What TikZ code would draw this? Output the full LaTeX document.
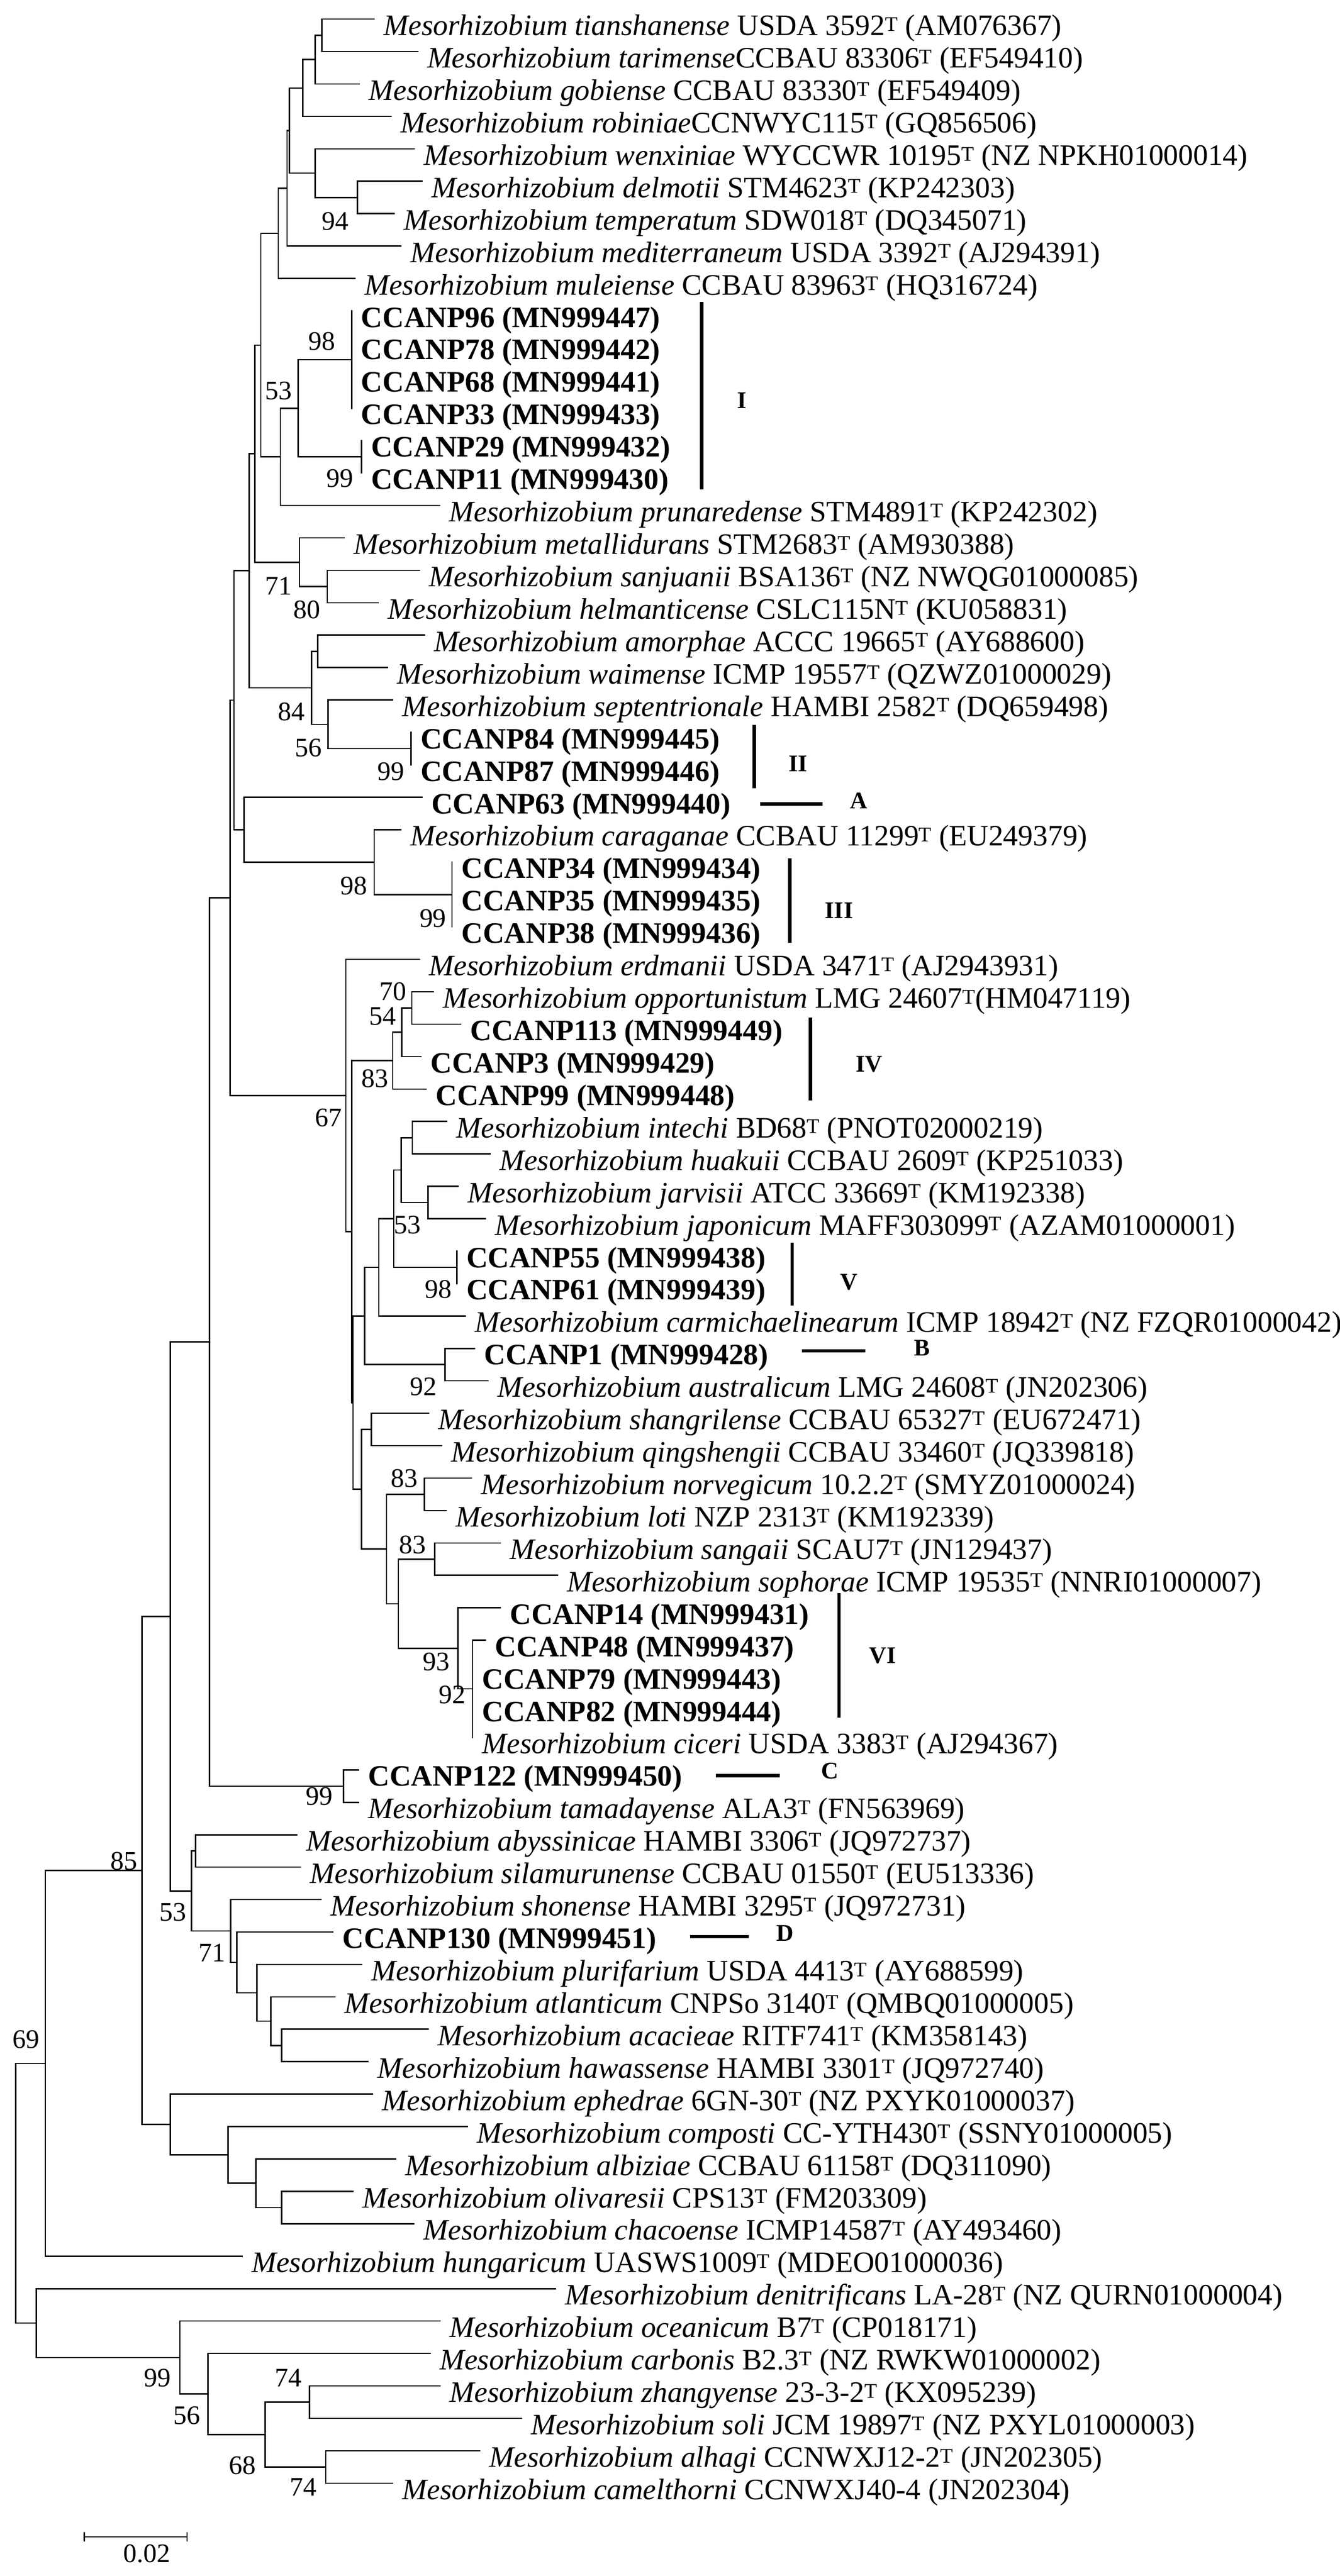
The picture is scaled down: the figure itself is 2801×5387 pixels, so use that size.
\documentclass[tikz,border=0pt]{standalone}
\usepackage{fontspec}
\setmainfont{Liberation Serif}
\usetikzlibrary{calc}
\newcommand{\Ms}[1]{\textit{Mesorhizobium #1}}
\newcommand{\sT}{\textsuperscript{T}}
\newcommand{\tip}[3]{\coordinate (t#1) at (#2,{40+67.8*(#1-1)});
  \node[taxon] (l#1) at ([xshift=20pt,yshift=-34pt]t#1) {#3};}
\newcommand{\inode}[4]{\path let \p1=(#3), \p2=(#4) in coordinate (#1) at (#2pt,{0.5*\y1+0.5*\y2});
  \draw[br] (#3) -| (#1) |- (#4);}
\newcommand{\barnode}[4]{\coordinate (#1) at (#2,{40+67.8*((#3+#4)/2-1)});
  \draw[br] (t#3) -- (t#4);}
\newcommand{\bs}[3]{\node[boot] (b#1) at (#2) {#3};}
\begin{document}
\begin{tikzpicture}[x=1pt,y=-1pt,
  br/.style={line width=2.8pt,line cap=rect},
  taxon/.style={anchor=base west,inner sep=0pt,font=\fontsize{62}{70}\selectfont},
  boot/.style={inner sep=0pt,font=\fontsize{56}{60}\selectfont},
  cl/.style={line width=7pt},
  clab/.style={inner sep=0pt,font=\fontsize{50}{56}\selectfont\bfseries}]
\useasboundingbox[fill=white] (0,0) rectangle (2801,5387);
\tip{1}{782}{\Ms{tianshanense} USDA 3592\sT{} (AM076367)}
\tip{2}{873}{\Ms{tarimense}CCBAU 83306\sT{} (EF549410)}
\tip{3}{751}{\Ms{gobiense} CCBAU 83330\sT{} (EF549409)}
\tip{4}{817}{\Ms{robiniae}CCNWYC115\sT{} (GQ856506)}
\tip{5}{866}{\Ms{wenxiniae} WYCCWR 10195\sT{} (NZ NPKH01000014)}
\tip{6}{882}{\Ms{delmotii} STM4623\sT{} (KP242303)}
\tip{7}{824}{\Ms{temperatum} SDW018\sT{} (DQ345071)}
\tip{8}{838}{\Ms{mediterraneum} USDA 3392\sT{} (AJ294391)}
\tip{9}{742}{\Ms{muleiense} CCBAU 83963\sT{} (HQ316724)}
\tip{10}{735}{\textbf{CCANP96 (MN999447)}}
\tip{11}{735}{\textbf{CCANP78 (MN999442)}}
\tip{12}{735}{\textbf{CCANP68 (MN999441)}}
\tip{13}{735}{\textbf{CCANP33 (MN999433)}}
\tip{14}{756}{\textbf{CCANP29 (MN999432)}}
\tip{15}{756}{\textbf{CCANP11 (MN999430)}}
\tip{16}{919}{\Ms{prunaredense} STM4891\sT{} (KP242302)}
\tip{17}{719}{\Ms{metallidurans} STM2683\sT{} (AM930388)}
\tip{18}{877}{\Ms{sanjuanii} BSA136\sT{} (NZ NWQG01000085)}
\tip{19}{791}{\Ms{helmanticense} CSLC115N\sT{} (KU058831)}
\tip{20}{887}{\Ms{amorphae} ACCC 19665\sT{} (AY688600)}
\tip{21}{810}{\Ms{waimense} ICMP 19557\sT{} (QZWZ01000029)}
\tip{22}{821}{\Ms{septentrionale} HAMBI 2582\sT{} (DQ659498)}
\tip{23}{859}{\textbf{CCANP84 (MN999445)}}
\tip{24}{859}{\textbf{CCANP87 (MN999446)}}
\tip{25}{882}{\textbf{CCANP63 (MN999440)}}
\tip{26}{838}{\Ms{caraganae} CCBAU 11299\sT{} (EU249379)}
\tip{27}{945}{\textbf{CCANP34 (MN999434)}}
\tip{28}{945}{\textbf{CCANP35 (MN999435)}}
\tip{29}{945}{\textbf{CCANP38 (MN999436)}}
\tip{30}{877}{\Ms{erdmanii} USDA 3471\sT{} (AJ2943931)}
\tip{31}{906}{\Ms{opportunistum} LMG 24607\sT(HM047119)}
\tip{32}{963}{\textbf{CCANP113 (MN999449)}}
\tip{33}{880}{\textbf{CCANP3 (MN999429)}}
\tip{34}{891}{\textbf{CCANP99 (MN999448)}}
\tip{35}{934}{\Ms{intechi} BD68\sT{} (PNOT02000219)}
\tip{36}{1024}{\Ms{huakuii} CCBAU 2609\sT{} (KP251033)}
\tip{37}{958}{\Ms{jarvisii} ATCC 33669\sT{} (KM192338)}
\tip{38}{1015}{\Ms{japonicum} MAFF303099\sT{} (AZAM01000001)}
\tip{39}{955}{\textbf{CCANP55 (MN999438)}}
\tip{40}{955}{\textbf{CCANP61 (MN999439)}}
\tip{41}{973}{\Ms{carmichaelinearum} ICMP 18942\sT{} (NZ FZQR01000042)}
\tip{42}{992}{\textbf{CCANP1 (MN999428)}}
\tip{43}{1020}{\Ms{australicum} LMG 24608\sT{} (JN202306)}
\tip{44}{896}{\Ms{shangrilense} CCBAU 65327\sT{} (EU672471)}
\tip{45}{923}{\Ms{qingshengii} CCBAU 33460\sT{} (JQ339818)}
\tip{46}{986}{\Ms{norvegicum} 10.2.2\sT{} (SMYZ01000024)}
\tip{47}{933}{\Ms{loti} NZP 2313\sT{} (KM192339)}
\tip{48}{1046}{\Ms{sangaii} SCAU7\sT{} (JN129437)}
\tip{49}{1165}{\Ms{sophorae} ICMP 19535\sT{} (NNRI01000007)}
\tip{50}{1046}{\textbf{CCANP14 (MN999431)}}
\tip{51}{1015}{\textbf{CCANP48 (MN999437)}}
\tip{52}{988}{\textbf{CCANP79 (MN999443)}}
\tip{53}{988}{\textbf{CCANP82 (MN999444)}}
\tip{54}{988}{\Ms{ciceri} USDA 3383\sT{} (AJ294367)}
\tip{55}{750}{\textbf{CCANP122 (MN999450)}}
\tip{56}{750}{\Ms{tamadayense} ALA3\sT{} (FN563969)}
\tip{57}{620}{\Ms{abyssinicae} HAMBI 3306\sT{} (JQ972737)}
\tip{58}{628}{\Ms{silamurunense} CCBAU 01550\sT{} (EU513336)}
\tip{59}{671}{\Ms{shonense} HAMBI 3295\sT{} (JQ972731)}
\tip{60}{696}{\textbf{CCANP130 (MN999451)}}
\tip{61}{756}{\Ms{plurifarium} USDA 4413\sT{} (AY688599)}
\tip{62}{700}{\Ms{atlanticum} CNPSo 3140\sT{} (QMBQ01000005)}
\tip{63}{895}{\Ms{acacieae} RITF741\sT{} (KM358143)}
\tip{64}{769}{\Ms{hawassense} HAMBI 3301\sT{} (JQ972740)}
\tip{65}{779}{\Ms{ephedrae} 6GN-30\sT{} (NZ PXYK01000037)}
\tip{66}{977}{\Ms{composti} CC-YTH430\sT{} (SSNY01000005)}
\tip{67}{827}{\Ms{albiziae} CCBAU 61158\sT{} (DQ311090)}
\tip{68}{738}{\Ms{olivaresii} CPS13\sT{} (FM203309)}
\tip{69}{865}{\Ms{chacoense} ICMP14587\sT{} (AY493460)}
\tip{70}{506}{\Ms{hungaricum} UASWS1009\sT{} (MDEO01000036)}
\tip{71}{1161}{\Ms{denitrificans} LA-28\sT{} (NZ QURN01000004)}
\tip{72}{920}{\Ms{oceanicum} B7\sT{} (CP018171)}
\tip{73}{899}{\Ms{carbonis} B2.3\sT{} (NZ RWKW01000002)}
\tip{74}{920}{\Ms{zhangyense} 23-3-2\sT{} (KX095239)}
\tip{75}{1090}{\Ms{soli} JCM 19897\sT{} (NZ PXYL01000003)}
\tip{76}{1003}{\Ms{alhagi} CCNWXJ12-2\sT{} (JN202305)}
\tip{77}{821}{\Ms{camelthorni} CCNWXJ40-4 (JN202304)}
% tree
\inode{n12}{673}{t1}{t2}
\inode{n123}{659}{n12}{t3}
\inode{n1234}{633}{n123}{t4}
\inode{n67}{747}{t6}{t7}
\inode{n567}{659}{t5}{n67}
\inode{nA}{605}{n1234}{n567}
\inode{nB}{600}{nA}{t8}
\inode{nC}{582}{nB}{t9}
\barnode{nG}{735}{10}{13}
\barnode{nH}{756}{14}{15}
\inode{nF}{623}{nG}{nH}
\inode{nE}{586}{nF}{t16}
\inode{nD}{545}{nC}{nE}
\inode{nJ}{684}{t18}{t19}
\inode{nI}{626}{t17}{nJ}
\inode{nX}{533}{nD}{nI}
\inode{nM}{664}{t20}{t21}
\barnode{nO}{859}{23}{24}
\inode{nN}{686}{t22}{nO}
\inode{nL}{651}{nM}{nN}
\inode{nK}{521}{nX}{nL}
\barnode{nU}{945}{27}{29}
\inode{nT}{782}{t26}{nU}
\inode{nQ}{510}{t25}{nT}
\inode{nP}{489}{nK}{nQ}
\inode{n70}{861}{t31}{t32}
\inode{n54}{840}{n70}{t33}
\inode{n83}{821}{n54}{t34}
\inode{nInt}{862}{t35}{t36}
\inode{nJar}{895}{t37}{t38}
\inode{nV8}{839}{nInt}{nJar}
\barnode{nV55}{955}{39}{40}
\inode{nV7}{823}{nV8}{nV55}
\inode{nV6}{792}{nV7}{t41}
\inode{nB1}{930}{t42}{t43}
\inode{nV5}{762}{nV6}{nB1}
\inode{nSQ}{776}{t44}{t45}
\inode{n83b}{887}{t46}{t47}
\inode{nSan}{909}{t48}{t49}
\coordinate (nVIb) at (988,{40+67.8*(52.5-1)});
\draw[br] (t51) -- (t51 -| t52) -- (t54);
\inode{nVI}{957}{t50}{nVIb}
\inode{n83c}{833}{nSan}{nVI}
\inode{nLo2}{808}{n83b}{n83c}
\inode{nLo}{756}{nSQ}{nLo2}
\inode{nS3}{738}{nV5}{nLo}
\inode{nS2}{735}{n83}{nS3}
\inode{nS}{723}{t30}{nS2}
\inode{nR}{481}{nP}{nS}
\inode{nW}{718}{t55}{t56}
\inode{nY}{438}{nR}{nW}
\inode{nAb}{409}{t57}{t58}
\inode{nAc}{589}{t63}{t64}
\inode{nAt}{566}{t62}{nAc}
\inode{nPl}{537}{t61}{nAt}
\inode{n71b}{495}{t60}{nPl}
\inode{n71}{482}{t59}{n71b}
\inode{n53}{400}{nAb}{n71}
\inode{nZ}{356}{nY}{n53}
\inode{nOl}{589}{t68}{t69}
\inode{nAl}{535}{t67}{nOl}
\inode{nCo}{477}{t66}{nAl}
\inode{nEph}{356}{t65}{nCo}
\inode{n85}{297}{nZ}{nEph}
\inode{n69}{95}{n85}{t70}
\inode{n74a}{647}{t74}{t75}
\inode{n74b}{681}{t76}{t77}
\inode{n68}{554}{n74a}{n74b}
\inode{n56}{435}{t73}{n68}
\inode{n99}{376}{t72}{n56}
\inode{nOut}{76}{t71}{n99}
\inode{root}{33}{n69}{nOut}
% bootstrap values
\bs{1}{701,463}{94} \bs{2}{673,714}{98} \bs{3}{582,817}{53} \bs{4}{710,1000}{99}
\bs{5}{582,1225}{71} \bs{6}{642,1275}{80} \bs{7}{609,1488}{84} \bs{8}{645,1564}{56}
\bs{9}{817,1613}{99} \bs{10}{740,1852}{98} \bs{11}{905,1920}{99} \bs{12}{687,2337}{67}
\bs{13}{821,2073}{70} \bs{14}{800,2125}{54} \bs{15}{784,2256}{83} \bs{16}{852,2562}{53}
\bs{17}{916,2696}{98} \bs{18}{885,2900}{92} \bs{19}{845,3092}{83} \bs{20}{862,3231}{83}
\bs{21}{912,3475}{93} \bs{22}{945,3544}{92} \bs{23}{667,3756}{99} \bs{24}{259,3892}{85}
\bs{25}{361,3999}{53} \bs{26}{443,4084}{71} \bs{27}{54,4265}{69} \bs{28}{329,4973}{99}
\bs{29}{391,5051}{56} \bs{30}{507,5156}{68} \bs{31}{603,4973}{74} \bs{32}{634,5201}{74}
% clade markers
\coordinate (cIa) at (1467,631); \coordinate (cIb) at (1467,1024);
\draw[cl] (cIa) -- (cIb); \node[clab] (kI) at (1551,837) {I};
\coordinate (cIIa) at (1577,1516); \coordinate (cIIb) at (1577,1648);
\draw[cl] (cIIa) -- (cIIb); \node[clab] (kII) at (1668,1597) {II};
\coordinate (cAa) at (1589,1681); \coordinate (cAb) at (1719,1681);
\draw[cl] (cAa) -- (cAb); \node[clab] (kA) at (1795,1674) {A};
\coordinate (cIIIa) at (1651,1795); \coordinate (cIIIb) at (1651,1972);
\draw[cl] (cIIIa) -- (cIIIb); \node[clab] (kIII) at (1754,1904) {III};
\coordinate (cIVa) at (1694,2128); \coordinate (cIVb) at (1694,2301);
\draw[cl] (cIVa) -- (cIVb); \node[clab] (kIV) at (1817,2226) {IV};
\coordinate (cVa) at (1656,2599); \coordinate (cVb) at (1656,2730);
\draw[cl] (cVa) -- (cVb); \node[clab] (kV) at (1775,2681) {V};
\coordinate (cBa) at (1676,2825); \coordinate (cBb) at (1809,2825);
\draw[cl] (cBa) -- (cBb); \node[clab] (kB) at (1927,2819) {B};
\coordinate (cVIa) at (1754,3331); \coordinate (cVIb) at (1754,3592);
\draw[cl] (cVIa) -- (cVIb); \node[clab] (kVI) at (1845,3462) {VI};
\coordinate (cCa) at (1496,3713); \coordinate (cCb) at (1630,3713);
\draw[cl] (cCa) -- (cCb); \node[clab] (kC) at (1735,3703) {C};
\coordinate (cDa) at (1443,4050); \coordinate (cDb) at (1565,4050);
\draw[cl] (cDa) -- (cDb); \node[clab] (kD) at (1641,4043) {D};
% scale bar
\coordinate (sa) at (176,5305); \coordinate (sb) at (391,5305);
\draw[line width=2.5pt] (sa) -- (sb);
\draw[line width=2.5pt] ([yshift=10pt]sa) -- ([yshift=-10pt]sa);
\draw[line width=2.5pt] ([yshift=10pt]sb) -- ([yshift=-10pt]sb);
\node[boot] (sl) at (307,5340) {0.02};
\end{tikzpicture}
\end{document}
